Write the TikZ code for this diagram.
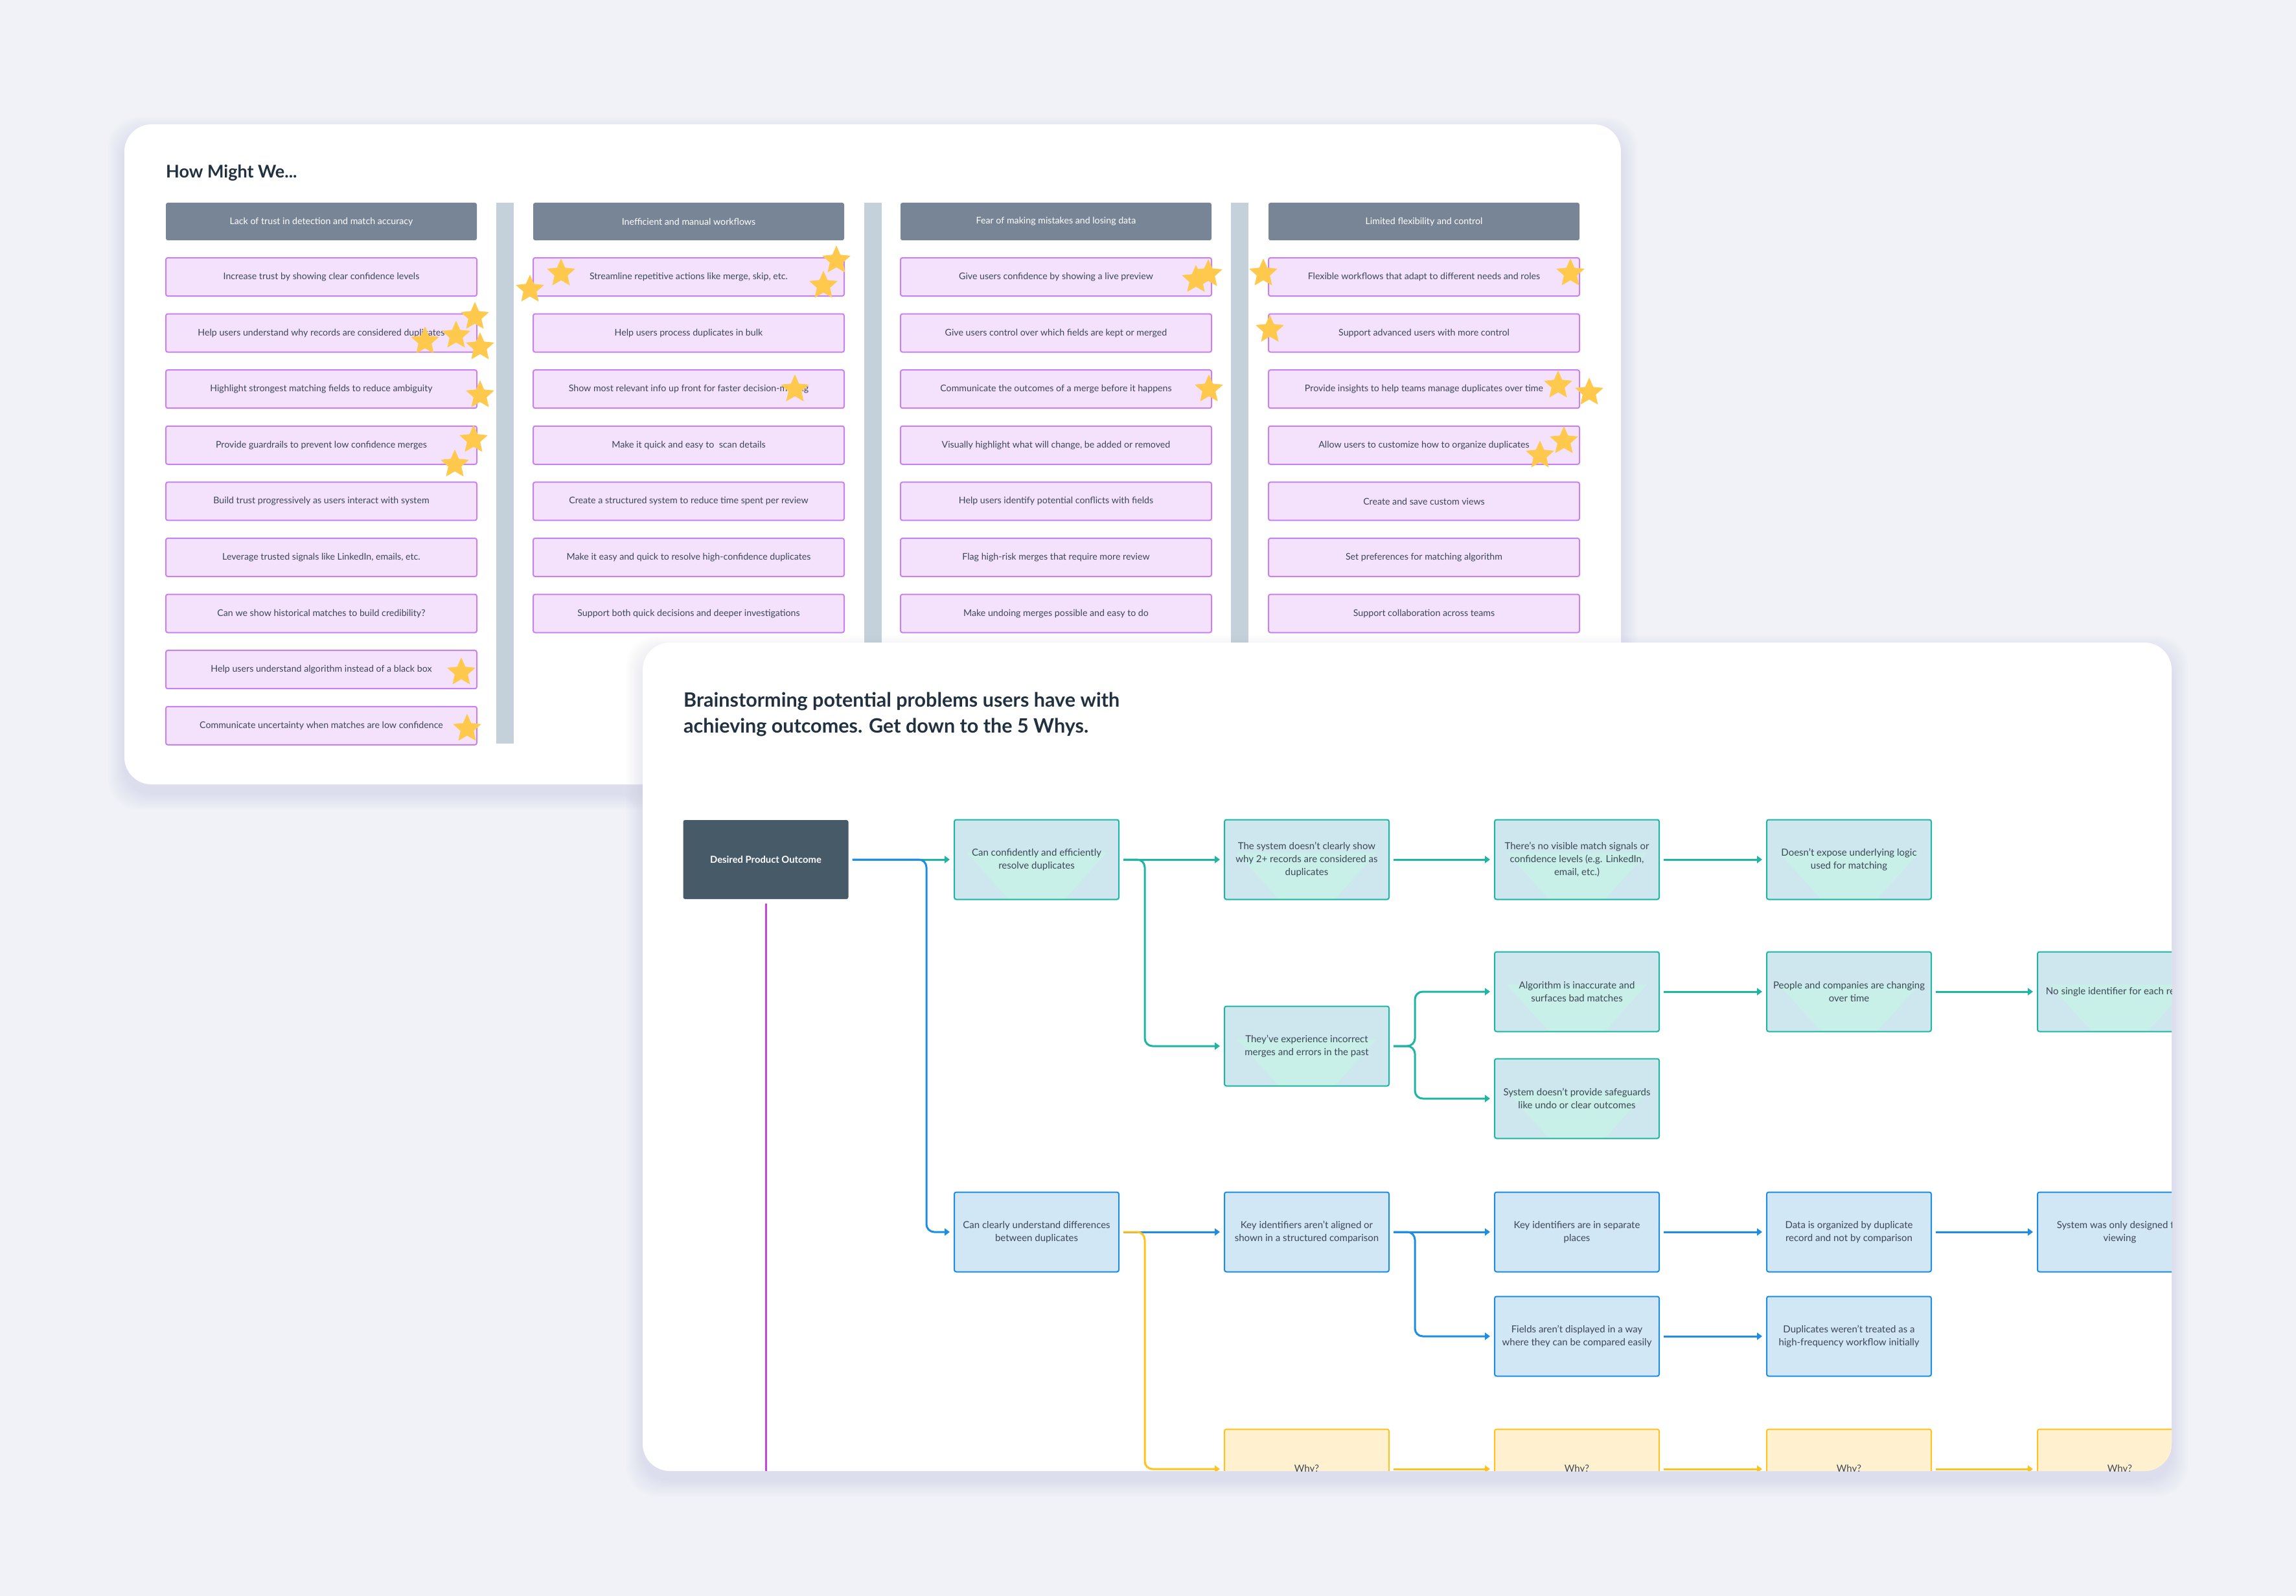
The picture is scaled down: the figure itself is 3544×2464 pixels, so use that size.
\documentclass[tikz,border=0pt]{standalone}
\usepackage{fontspec}
\setmainfont{Lato}
\usetikzlibrary{shapes.geometric,arrows.meta,calc}
\definecolor{bgc}{HTML}{F0F2F7}
\definecolor{shadowc}{HTML}{B4B4D2}
\definecolor{headc}{HTML}{788596}
\definecolor{barc}{HTML}{C5D1DA}
\definecolor{rowfill}{HTML}{F4E2FC}
\definecolor{rowdraw}{HTML}{C882F0}
\definecolor{txtc}{HTML}{3D4756}
\definecolor{titlec}{HTML}{213140}
\definecolor{starc}{HTML}{FFC94D}
\definecolor{tealc}{HTML}{1DB5A4}
\definecolor{tealfill}{HTML}{CEE7EF}
\definecolor{mintc}{HTML}{C9EFE9}
\definecolor{bluec}{HTML}{1E8DE5}
\definecolor{bluefill}{HTML}{D2E7F6}
\definecolor{yelc}{HTML}{FFC21F}
\definecolor{yelfill}{HTML}{FFF1D0}
\definecolor{deskc}{HTML}{465A68}
\definecolor{purplec}{HTML}{C944DC}
\newcommand\cardshadow[4]{%
  \foreach \k in {1,...,10}{%
    \fill[shadowc, opacity=0.025, rounded corners=46pt] (#1-2.5*\k, #2-2.5*\k+14) rectangle (#3+2.5*\k, #4+2.5*\k+14);
  }}
\begin{document}
\begin{tikzpicture}[x=1pt,y=-1pt,
  hmwrow/.style={draw=rowdraw, line width=2pt, fill=rowfill, rounded corners=3pt,
    minimum width=480pt, minimum height=59pt, inner sep=0pt, text=txtc,
    font=\fontsize{14.2}{17}\selectfont},
  hmwhead/.style={fill=headc, rounded corners=3pt, minimum width=480pt, minimum height=58pt,
    inner sep=0pt, text=white, font=\fontsize{14.2}{17}\selectfont},
  starmark/.style={star, star points=5, star point ratio=2.15, fill=starc, draw=none,
    minimum size=46pt, inner sep=0pt},
  flowbox/.style={minimum width=254pt, minimum height=123pt, rounded corners=3pt,
    line width=2pt, align=center, inner sep=0pt, text=txtc,
    font=\fontsize{15}{20}\selectfont},
  tealbox/.style={flowbox, draw=tealc, fill=tealfill,
    path picture={\fill[mintc]
      ($(path picture bounding box.north west)+(18,50)$) --
      ($(path picture bounding box.north east)+(-18,50)$) --
      ($(path picture bounding box.south east)+(-84,0)$) --
      ($(path picture bounding box.south west)+(84,0)$) -- cycle;}},
  bluebox/.style={flowbox, draw=bluec, fill=bluefill},
  yelbox/.style={flowbox, draw=yelc, fill=yelfill},
  conn/.style={line width=3pt, rounded corners=12pt, -{Triangle[length=8pt,width=11pt]},
    shorten >=6pt, shorten <=6pt},
  tealconn/.style={conn, draw=tealc},
  blueconn/.style={conn, draw=bluec},
  yelconn/.style={conn, draw=yelc},
]
\useasboundingbox (0,0) rectangle (3544,2464);
\fill[bgc] (0,0) rectangle (3544,2464);

% ---------- card 1 ----------
\cardshadow{192}{192}{2502}{1211}
\fill[white, rounded corners=42pt] (192,192) rectangle (2502,1211);
\node[anchor=west, text=titlec, font=\bfseries\fontsize{27}{32}\selectfont, inner sep=0pt] (hmw) at (256,267) {How Might We...};

\fill[barc] (766,313) rectangle (793,1148);
\fill[barc] (1334,313) rectangle (1361,1148);
\fill[barc] (1900,313) rectangle (1927,1148);

\node[hmwhead] (h1) at (496,342) {Lack of trust in detection and match accuracy};
\node[hmwhead] (h2) at (1063,342) {Inefficient and manual workflows};
\node[hmwhead] (h3) at (1630,342) {Fear of making mistakes and losing data};
\node[hmwhead] (h4) at (2198,342) {Limited flexibility and control};

\foreach \t [count=\i] in {
  {Increase trust by showing clear confidence levels},
  {Help users understand why records are considered duplicates},
  {Highlight strongest matching fields to reduce ambiguity},
  {Provide guardrails to prevent low confidence merges},
  {Build trust progressively as users interact with system},
  {Leverage trusted signals like LinkedIn, emails, etc.},
  {Can we show historical matches to build credibility?},
  {Help users understand algorithm instead of a black box},
  {Communicate uncertainty when matches are low confidence}}
  \node[hmwrow] (a\i) at (496,{427.5+86.6*(\i-1)}) {\t};

\foreach \t [count=\i] in {
  {Streamline repetitive actions like merge, skip, etc.},
  {Help users process duplicates in bulk},
  {Show most relevant info up front for faster decision-making},
  {Make it quick and easy to\ \ scan details},
  {Create a structured system to reduce time spent per review},
  {Make it easy and quick to resolve high-confidence duplicates},
  {Support both quick decisions and deeper investigations}}
  \node[hmwrow] (b\i) at (1063,{427.5+86.6*(\i-1)}) {\t};

\foreach \t [count=\i] in {
  {Give users confidence by showing a live preview},
  {Give users control over which fields are kept or merged},
  {Communicate the outcomes of a merge before it happens},
  {Visually highlight what will change, be added or removed},
  {Help users identify potential conflicts with fields},
  {Flag high-risk merges that require more review},
  {Make undoing merges possible and easy to do}}
  \node[hmwrow] (c\i) at (1630,{427.5+86.6*(\i-1)}) {\t};

\foreach \t [count=\i] in {
  {Flexible workflows that adapt to different needs and roles},
  {Support advanced users with more control},
  {Provide insights to help teams manage duplicates over time},
  {Allow users to customize how to organize duplicates},
  {Create and save custom views},
  {Set preferences for matching algorithm},
  {Support collaboration across teams}}
  \node[hmwrow] (d\i) at (2198,{427.5+86.6*(\i-1)}) {\t};

% stars
\foreach \sx/\sy [count=\i] in {733/489, 704/518, 741/536, 656/527, 741/610, 731/679, 702/717,
  712/1038, 721/1125, 866/422, 818/447, 1291/402, 1271/441, 1227/601,
  1846/432, 1865/423, 1866/601, 1950/422, 2424/422, 1960/509, 2405/595, 2453/606,
  2414/681, 2377/703}
  \node[starmark] (s\i) at (\sx,\sy) {};

% ---------- card 2 ----------
\cardshadow{992}{992}{3352}{2271}
\fill[white, rounded corners=42pt] (992,992) rectangle (3352,2271);
\begin{scope}
\clip[rounded corners=42pt] (992,992) rectangle (3352,2271);

\node[anchor=west, align=left, text=titlec, inner sep=0pt,
  font=\bfseries\fontsize{30.5}{40}\selectfont] (bt) at (1055,1103)
  {Brainstorming potential problems users have with\\achieving outcomes. Get down to the 5 Whys.};

\node[fill=deskc, rounded corners=3pt, minimum width=255pt, minimum height=122pt,
  text=white, font=\bfseries\fontsize{14.8}{18}\selectfont, inner sep=0pt] (desired) at (1182,1327)
  {Desired Product Outcome};

% teal group
\node[tealbox] (cc) at (1600,1327) {Can confidently and efficiently\\resolve duplicates};
\node[tealbox] (sys) at (2017,1327) {The system doesn’t clearly show\\why 2+ records are considered as\\duplicates};
\node[tealbox] (novis) at (2434,1327) {There’s no visible match signals or\\confidence levels (e.g. LinkedIn,\\email, etc.)};
\node[tealbox] (logic) at (2854,1327) {Doesn’t expose underlying logic\\used for matching};
\node[tealbox] (exp) at (2017,1615) {They’ve experience incorrect\\merges and errors in the past};
\node[tealbox] (alg) at (2434,1531) {Algorithm is inaccurate and\\surfaces bad matches};
\node[tealbox] (people) at (2854,1531) {People and companies are changing\\over time};
\node[tealbox] (nosingle) at (3272,1531) {No single identifier for each record};
\node[tealbox] (safe) at (2434,1696) {System doesn’t provide safeguards\\like undo or clear outcomes};

% blue group
\node[bluebox] (cu) at (1600,1902) {Can clearly understand differences\\between duplicates};
\node[bluebox] (keyal) at (2017,1902) {Key identifiers aren’t aligned or\\shown in a structured comparison};
\node[bluebox] (keysep) at (2434,1902) {Key identifiers are in separate\\places};
\node[bluebox] (data) at (2854,1902) {Data is organized by duplicate\\record and not by comparison};
\node[bluebox] (sysview) at (3272,1902) {System was only designed for\\viewing};
\node[bluebox] (fields) at (2434,2063) {Fields aren’t displayed in a way\\where they can be compared easily};
\node[bluebox] (dupl) at (2854,2063) {Duplicates weren’t treated as a\\high-frequency workflow initially};

% yellow group
\node[yelbox] (why1) at (2017,2268) {Why?};
\node[yelbox] (why2) at (2434,2268) {Why?};
\node[yelbox] (why3) at (2854,2268) {Why?};
\node[yelbox] (why4) at (3272,2268) {Why?};

% branch points
\coordinate (bA) at (1430,1902);
\coordinate (bB) at (1767,1615);
\coordinate (bC) at (2184,1531);
\coordinate (bD) at (2184,1696);
\coordinate (bE) at (2184,2063);
\coordinate (bF) at (1767,2268);
\coordinate (pend) at (1182,2300);

\draw[purplec, line width=3pt, shorten <=7pt] (desired.south) -- (pend);

\draw[tealconn] (desired.east) -- (cc.west);
\draw[blueconn] (desired.east) -| (bA) -- (cu.west);

\draw[tealconn] (cc.east) -- (sys.west);
\draw[tealconn] (cc.east) -| (bB) -- (exp.west);
\draw[tealconn] (sys.east) -- (novis.west);
\draw[tealconn] (novis.east) -- (logic.west);
\draw[tealconn] (exp.east) -| (bC) -- (alg.west);
\draw[tealconn] (exp.east) -| (bD) -- (safe.west);
\draw[tealconn] (alg.east) -- (people.west);
\draw[tealconn] (people.east) -- (nosingle.west);

\draw[blueconn] (cu.east) -- (keyal.west);
\draw[blueconn] (keyal.east) -- (keysep.west);
\draw[blueconn] (keyal.east) -| (bE) -- (fields.west);
\draw[blueconn] (keysep.east) -- (data.west);
\draw[blueconn] (data.east) -- (sysview.west);
\draw[blueconn] (fields.east) -- (dupl.west);

\draw[yelconn] (cu.east) -| (bF) -- (why1.west);
\draw[yelconn] (why1.east) -- (why2.west);
\draw[yelconn] (why2.east) -- (why3.west);
\draw[yelconn] (why3.east) -- (why4.west);
\end{scope}
\end{tikzpicture}
\end{document}
